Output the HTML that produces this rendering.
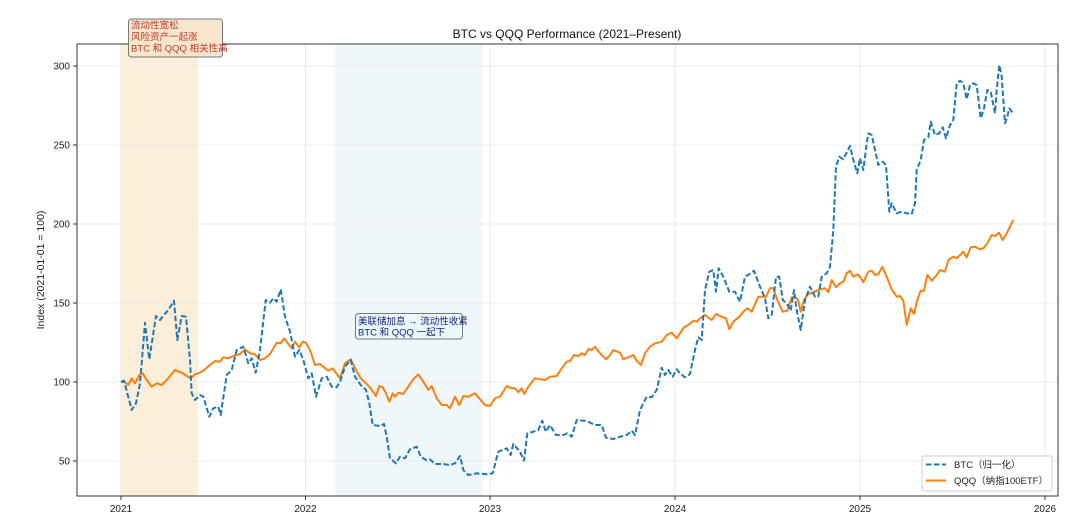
<!DOCTYPE html>
<html><head><meta charset="utf-8"><style>
body{margin:0;background:#fff}
svg{display:block;font-family:"Liberation Sans","Noto Sans CJK SC",sans-serif}
</style></head><body>
<svg id="s" width="1080" height="532" viewBox="0 0 1080 532" xmlns="http://www.w3.org/2000/svg">
<rect width="1080" height="532" fill="#fff"/>
<rect x="121" y="44" width="77" height="452" fill="#fdeed9"/>
<rect x="335" y="44" width="147.5" height="452" fill="#eff7fa"/>
<g stroke="#e6e6e6" stroke-width="0.8">
<line x1="77" x2="1058" y1="66" y2="66"/><line x1="77" x2="1058" y1="145" y2="145"/>
<line x1="77" x2="1058" y1="224" y2="224"/><line x1="77" x2="1058" y1="303" y2="303"/>
<line x1="77" x2="1058" y1="382" y2="382"/><line x1="77" x2="1058" y1="461" y2="461"/>
<line y1="44" y2="496" x1="121" x2="121"/><line y1="44" y2="496" x1="305.5" x2="305.5"/>
<line y1="44" y2="496" x1="490" x2="490"/><line y1="44" y2="496" x1="675" x2="675"/>
<line y1="44" y2="496" x1="860" x2="860"/><line y1="44" y2="496" x1="1045" x2="1045"/>
</g>
<g id="lines"></g>
<rect x="77" y="44" width="981" height="452" fill="none" stroke="#333" stroke-width="1"/>
<g stroke="#333" stroke-width="1">
<line x1="73" x2="77" y1="66" y2="66"/><line x1="73" x2="77" y1="145" y2="145"/><line x1="73" x2="77" y1="224" y2="224"/>
<line x1="73" x2="77" y1="303" y2="303"/><line x1="73" x2="77" y1="382" y2="382"/><line x1="73" x2="77" y1="461" y2="461"/>
<line y1="496" y2="500" x1="121" x2="121"/><line y1="496" y2="500" x1="305.5" x2="305.5"/><line y1="496" y2="500" x1="490" x2="490"/>
<line y1="496" y2="500" x1="675" x2="675"/><line y1="496" y2="500" x1="860" x2="860"/><line y1="496" y2="500" x1="1045" x2="1045"/>
</g>
<g font-size="10" fill="#222" text-anchor="end">
<text x="70" y="69.5">300</text><text x="70" y="148.5">250</text><text x="70" y="227.5">200</text>
<text x="70" y="306.5">150</text><text x="70" y="385.5">100</text><text x="70" y="464.5">50</text>
</g>
<g font-size="10" fill="#222" text-anchor="middle">
<text x="121" y="512">2021</text><text x="305.5" y="512">2022</text><text x="490" y="512">2023</text>
<text x="675" y="512">2024</text><text x="860" y="512">2025</text><text x="1045" y="512">2026</text>
</g>
<text x="567" y="38" font-size="12" text-anchor="middle" fill="#111">BTC vs QQQ Performance (2021–Present)</text>
<text transform="translate(44,270) rotate(-90)" font-size="10.5" text-anchor="middle" fill="#222">Index (2021-01-01 = 100)</text>
<rect x="128.5" y="19" width="94" height="38" rx="3" fill="#f6e6cc" stroke="#777" stroke-width="1"/>
<g font-size="9.5" fill="#c0392b"><text x="131" y="28.5">流动性宽松</text><text x="131" y="40">风险资产一起涨</text><text x="131" y="51.5">BTC 和 QQQ 相关性高</text></g>
<rect x="355.5" y="313.5" width="107" height="25.5" rx="3" fill="#e8f8fb" stroke="#777" stroke-width="1"/>
<g font-size="9.5" fill="#1a237e"><text x="358" y="324.5">美联储加息 → 流动性收紧</text><text x="358" y="335.5">BTC 和 QQQ 一起下</text></g>
<rect x="922" y="456" width="130" height="35" rx="2" fill="#fff" fill-opacity="0.9" stroke="#ccc"/>
<line x1="926" x2="946" y1="464.5" y2="464.5" stroke="#1f77b4" stroke-width="2" stroke-dasharray="5.5,2.5"/>
<line x1="926" x2="946" y1="480.5" y2="480.5" stroke="#ff7f0e" stroke-width="2"/>
<g font-size="9.5" fill="#222"><text x="954" y="468">BTC（归一化）</text><text x="954" y="484">QQQ（纳指100ETF）</text></g>
</svg>
<script>
function conv(ox,oy,a){var r=[];for(var i=0;i<a.length;i+=2)r.push((ox+a[i]/3).toFixed(1)+","+(oy+a[i+1]/3).toFixed(1));return r;}
var b6=[72,392,95,480,108,460,120,400,135,218,148,328,168,198,180,210,192,195,205,180,222,152,232,270,245,198,258,200,270,330,275,430,285,450,300,435,310,440,328,500,340,475,355,470,362,495,380,375,395,360,410,300,430,290,445,340,455,325,467,368,480,300,497,150,510,158,520,145,530,155,542,118,555,200,570,245,585,320,598,300,610,330,625,385,635,370,648,440,665,385,680,380,695,410,710,412,720,395,735,350,752,330,765,380,782,405,798,420,808,460,818,525,840,528,852,522,860,560,870,625,888,640,900,620,915,625,930,598,950,590,962,620,978,630,990,628,1005,642,1030,642,1050,645,1065,640,1080,618,1090,660,1105,675,1130,670];
var b7=[20,1003,38,1000,55,935,80,925,92,945,100,912,120,935,132,962,142,880,160,875,175,870,187,842,197,875,210,855,228,885,250,885,262,880,275,890,290,840,320,843,345,855,365,855,378,893,400,897,420,890,440,885,455,872,465,885,480,810,500,770,515,772,530,750,545,683,555,705,565,690,578,710,590,688,600,700,615,712,630,702,645,630,655,592,665,600,675,450,688,395,700,390,708,455,716,385,730,410,748,455,765,455,780,485,795,410,812,400,822,392,840,440,855,475,865,535,875,525,888,410,898,410,908,480,920,490,932,512,942,450,950,510,962,570,975,480,990,440,1005,470,1015,470,1025,410,1040,400,1050,380,1060,270];
var b8=[108,350,118,320,130,328,150,288,160,330,172,370,180,325,190,360,200,280,205,250,215,255,225,300,235,345,248,335,258,345,268,485,275,460,290,490,305,485,320,490,335,492,345,460,350,360,362,330,372,270,385,262,392,215,405,255,418,250,428,232,438,265,450,225,460,210,470,100,480,92,490,100,500,148,510,105,520,100,530,105,542,205,552,175,562,120,572,125,585,190,590,120,598,45,605,80,615,220,622,200,628,175,638,188];
var q6=[72,395,85,405,95,385,105,400,118,375,128,370,140,390,155,410,170,400,185,405,200,390,225,360,245,368,260,378,272,385,285,373,300,368,315,358,330,345,345,333,360,335,370,322,385,325,400,318,420,312,435,298,450,310,465,313,480,330,495,325,510,312,530,278,542,280,552,265,565,282,575,295,585,275,598,292,608,275,618,278,632,305,645,345,660,342,672,352,685,362,698,355,705,365,720,385,735,340,752,328,768,360,782,385,798,400,812,415,828,438,838,408,848,412,858,430,868,455,878,430,885,440,895,428,910,432,928,405,940,388,955,373,970,395,985,420,995,408,1010,445,1025,465,1040,465,1050,475,1065,440,1078,465,1090,438,1105,440,1125,430,1140,448];
var q7=[15,795,30,798,45,775,60,770,80,738,95,745,105,745,115,757,125,745,133,762,145,740,165,715,180,718,195,720,210,710,230,708,245,685,260,665,270,663,282,645,295,648,305,640,315,645,325,627,335,630,345,620,360,640,378,658,390,645,400,630,420,638,430,658,445,652,460,645,470,662,483,675,495,640,510,620,525,610,545,605,560,585,575,578,590,595,600,580,612,562,625,555,640,542,650,545,660,535,675,525,695,540,708,522,725,530,738,535,748,568,760,545,778,530,795,510,803,505,815,515,835,470,850,470,858,470,870,445,880,445,892,480,908,515,922,512,935,472,945,470,955,482,962,515,972,480,985,462,1000,458,1015,450];
var q8=[30,730,45,725,60,718,75,715,85,727,95,690,108,712,120,700,130,695,140,670,150,662,160,680,172,673,180,680,190,697,205,665,215,662,225,675,235,673,247,650,260,680,275,718,290,740,300,738,310,752,320,825,332,775,342,792,352,750,362,722,372,722,382,675,395,692,410,675,420,660,435,665,445,630,460,620,470,625,490,605,500,622,512,592,525,590,540,598,550,595,562,580,575,555,585,558,597,548,608,570,620,550,640,510];
var bp=conv(100,250,b6).concat(conv(480,140,b7),conv(800,50,b8));
var qp=["121,382"].concat(conv(100,250,q6),conv(480,140,q7),conv(800,50,q8));
bp.unshift("121,382");
document.getElementById("lines").innerHTML=
'<polyline points="'+qp.join(" ")+'" fill="none" stroke="#ff7f0e" stroke-width="2" stroke-linejoin="round"/>'+
'<polyline points="'+bp.join(" ")+'" fill="none" stroke="#1f77b4" stroke-width="2" stroke-dasharray="5.5,2.5" stroke-linejoin="round"/>';
</script>
</body></html>
